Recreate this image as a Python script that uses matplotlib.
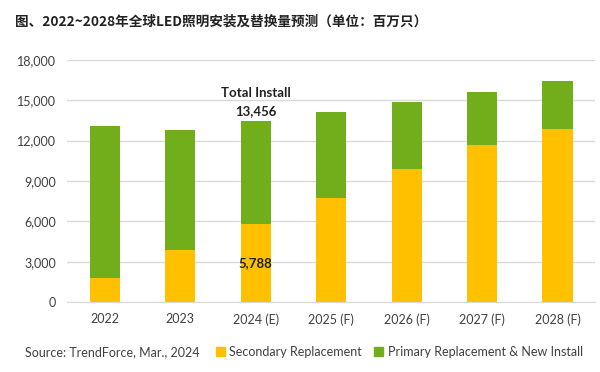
import matplotlib.pyplot as plt
from matplotlib.patches import Patch

plt.rcParams['font.family'] = ['Lato', 'Noto Sans CJK SC', 'DejaVu Sans']

years = ['2022', '2023', '2024 (E)', '2025 (F)', '2026 (F)', '2027 (F)', '2028 (F)']
total = [13090, 12790, 13456, 14110, 14880, 15650, 16410]
secondary = [1790, 3850, 5788, 7760, 9890, 11650, 12840]
primary = [t - s for t, s in zip(total, secondary)]
yticks = [0, 3000, 6000, 9000, 12000, 15000, 18000]

yellow = '#FFC000'
green = '#72AE1C'

fig = plt.figure(figsize=(6, 3.72), dpi=100)
ax = fig.add_axes([0.112, 0.188, 0.88, 0.651])

x = range(len(years))
ax.bar(x, secondary, width=0.4, color=yellow, zorder=3)
ax.bar(x, primary, width=0.4, bottom=secondary, color=green, zorder=3)

ax.set_xlim(-0.5, 6.5)
ax.set_ylim(0, 18000)
ax.set_yticks(yticks)
ax.set_yticklabels([f'{v:,}' for v in yticks])
ax.set_xticks(list(x))
ax.set_xticklabels(years)
ax.tick_params(length=0, labelsize=9, colors='#404040', pad=8)
ax.grid(axis='y', color='#D9D9D9', linewidth=1, zorder=0)
for s in ['top', 'right', 'left']:
    ax.spines[s].set_visible(False)
ax.spines['bottom'].set_color('#D9D9D9')

# labels on the 2024 bar
ax.text(2, total[2] + 2110, 'Total Install', ha='center', va='center',
        fontsize=9.5, fontweight='bold', color='#222222')
ax.text(2, total[2] + 750, f'{total[2]:,}', ha='center', va='center',
        fontsize=9.5, fontweight='bold', color='#222222')
ax.text(2, 2900, f'{secondary[2]:,}', ha='center', va='center',
        fontsize=9.5, fontweight='bold', color='#222222')

fig.text(0.025, 0.941, '图、2022~2028年全球LED照明安装及替换量预测（单位：百万只）',
         fontsize=9.8, fontweight='bold', color='#222222', va='center',
         family=['Noto Sans CJK SC', 'DejaVu Sans'])

fig.text(0.042, 0.054, 'Source: TrendForce, Mar., 2024', fontsize=9,
         color='#404040', va='center')
handles = [Patch(color=yellow, label='Secondary Replacement'),
           Patch(color=green, label='Primary Replacement & New Install')]
fig.legend(handles=handles, loc='center left', bbox_to_anchor=(0.36, 0.054),
           ncol=2, frameon=False, fontsize=9, handlelength=0.7,
           handleheight=0.7, handletextpad=0.35, columnspacing=1.0,
           borderpad=0, borderaxespad=0, labelcolor='#404040')

fig.savefig('out.png', dpi=100)
